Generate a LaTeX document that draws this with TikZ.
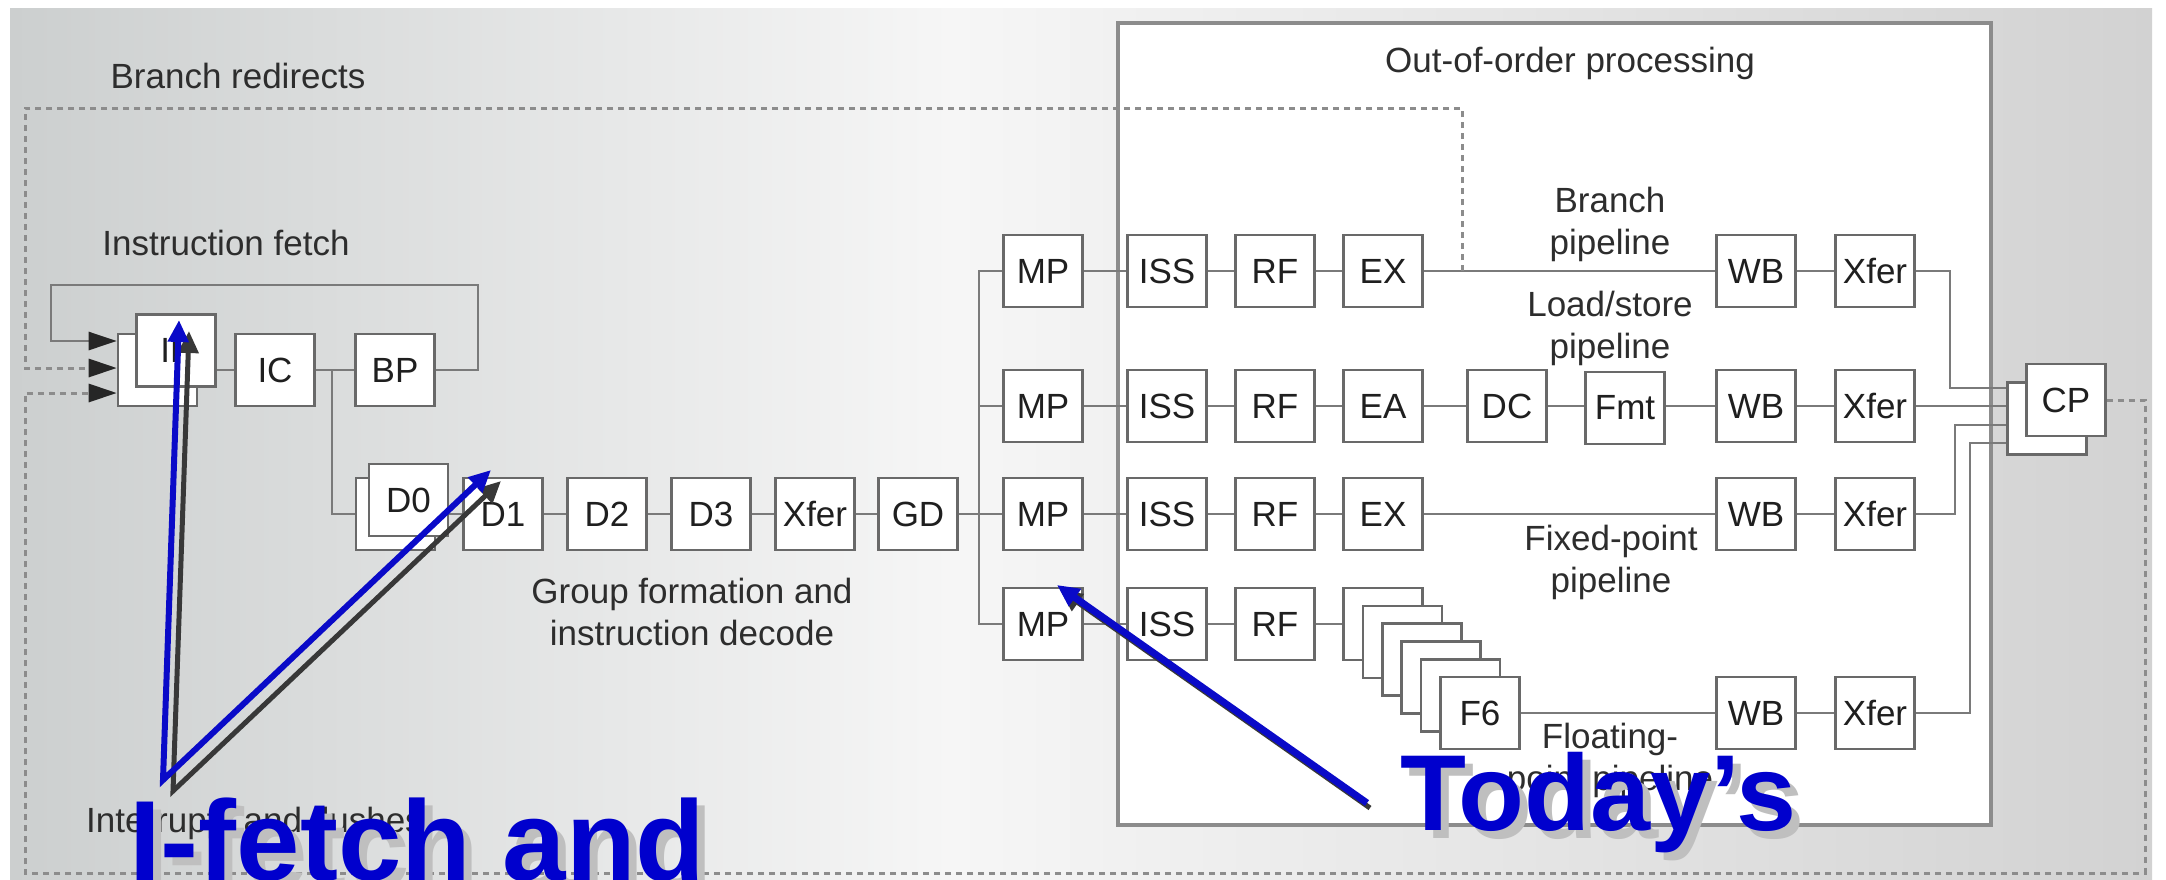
\documentclass[tikz,border=0pt]{standalone}
\usepackage{fontspec}
\setmainfont{Liberation Sans}
\usetikzlibrary{arrows.meta,calc}
\definecolor{bgL}{RGB}{204,207,207}
\definecolor{bgM}{RGB}{246,246,246}
\definecolor{bgR}{RGB}{210,210,210}
\definecolor{boxln}{RGB}{105,105,105}
\definecolor{wirec}{RGB}{122,122,122}
\definecolor{dotc}{RGB}{140,140,140}
\definecolor{ooocol}{RGB}{140,140,140}
\definecolor{labtxt}{RGB}{45,45,45}
\definecolor{hiblue}{RGB}{0,0,205}
\definecolor{arrblue}{RGB}{10,10,200}
\definecolor{halo}{RGB}{190,190,245}
\pgfdeclarehorizontalshading{bgshade}{100bp}{color(0bp)=(bgL); color(25bp)=(bgL); color(47bp)=(bgM); color(75bp)=(bgR); color(100bp)=(bgR)}
\newcommand\lblfont{\fontsize{35}{42}\selectfont}
\begin{document}
\begin{tikzpicture}[x=1pt,y=-1pt,
  stg/.style={draw=boxln, line width=2.6pt, fill=white, minimum width=79pt, minimum height=72pt, inner sep=0pt, font=\lblfont, text=black!88},
  wire/.style={draw=wirec, line width=2.6pt},
  redir/.style={draw=dotc, line width=3pt, dash pattern=on 6pt off 5pt},
  tipB/.style={-{Triangle[length=28pt,width=18pt,color=black!85]}},
  lab/.style={font=\lblfont, text=labtxt, align=center, inner sep=0pt},
  blueArr/.style={draw=arrblue, line width=6pt, line join=miter},
  shadArr/.style={draw=black!78, line width=5pt, line join=miter},
  both/.style={{Triangle[length=22pt,width=20pt]}-{Triangle[length=22pt,width=20pt]}},
  one/.style={-{Triangle[length=22pt,width=20pt]}},
  bigtxt/.style={inner sep=0pt, anchor=base west}]
\useasboundingbox (0,0) rectangle (2166,879);
\fill[white] (0,0) rectangle (2166,879);
\shade[shading=bgshade] (10,8) rectangle (2152,879);
% out-of-order region
\node[draw=ooocol, fill=white, line width=3.5pt, minimum width=873pt, minimum height=802pt, inner sep=0pt] (ooo) at (1554.5,424) {};
% labels
\node[lab] (tBR) at (238,76) {Branch redirects};
\node[lab] (tOOO) at (1570,63) {Out-of-order processing};
\node[lab] (tIFe) at (226,243) {Instruction fetch};
\node[lab] (tGF) at (692,612) {Group formation and\\instruction decode};
\node[lab] (tBPl) at (1610,224) {Branch\\pipeline};
\node[lab] (tLS) at (1610,328) {Load/store\\pipeline};
\node[lab] (tFX) at (1611,562) {Fixed-point\\pipeline};
\node[lab] (tFP) at (1610,760) {Floating-\\point pipeline};
\node[lab, anchor=west] (tIN) at (86,823) {Interrupts and flushes};
% instruction fetch
\node[stg] (IFb) at (157.5,370) {};
\node[stg] (IFf) at (176,350.5) {IF};
\node[stg] (IC) at (275,370) {IC};
\node[stg] (BP) at (395,370) {BP};
% decode
\node[stg] (D0b) at (395.5,514) {};
\node[stg] (D0f) at (408.5,500) {D0};
\node[stg] (D1) at (503,514) {D1};
\node[stg] (D2) at (607,514) {D2};
\node[stg] (D3) at (711,514) {D3};
\node[stg] (XF0) at (815,514) {Xfer};
\node[stg] (GD) at (918,514) {GD};
% row 1
\node[stg] (MP1) at (1043,271) {MP};
\node[stg] (ISS1) at (1167,271) {ISS};
\node[stg] (RF1) at (1275,271) {RF};
\node[stg] (EX1) at (1383,271) {EX};
\node[stg] (WB1) at (1756,271) {WB};
\node[stg] (XF1) at (1875,271) {Xfer};
% row 2
\node[stg] (MP2) at (1043,406) {MP};
\node[stg] (ISS2) at (1167,406) {ISS};
\node[stg] (RF2) at (1275,406) {RF};
\node[stg] (EA2) at (1383,406) {EA};
\node[stg] (DC2) at (1507,406) {DC};
\node[stg] (Fmt2) at (1625,408) {Fmt};
\node[stg] (WB2) at (1756,406) {WB};
\node[stg] (XF2) at (1875,406) {Xfer};
% row 3
\node[stg] (MP3) at (1043,514) {MP};
\node[stg] (ISS3) at (1167,514) {ISS};
\node[stg] (RF3) at (1275,514) {RF};
\node[stg] (EX3) at (1383,514) {EX};
\node[stg] (WB3) at (1756,514) {WB};
\node[stg] (XF3) at (1875,514) {Xfer};
% row 4
\node[stg] (MP4) at (1043,624) {MP};
\node[stg] (ISS4) at (1167,624) {ISS};
\node[stg] (RF4) at (1275,624) {RF};
\node[stg] (F1) at (1383,624) {};
\node[stg] (F2) at (1402.4,641.8) {};
\node[stg] (F3) at (1421.8,659.6) {};
\node[stg] (F4) at (1441.2,677.4) {};
\node[stg] (F5) at (1460.6,695.2) {};
\node[stg] (F6) at (1480,713) {F6};
\node[stg] (WB4) at (1756,713) {WB};
\node[stg] (XF4) at (1875,713) {Xfer};
% completion
\node[stg] (CPb) at (2047,418.5) {};
\node[stg] (CPf) at (2066,400) {CP};
% coordinates
\coordinate (jn) at (332,370);
\coordinate (lpR) at (478,285);
\coordinate (lpL) at (51,285);
\coordinate (bx) at (979,514);
\coordinate (brj) at (1462,271);
\coordinate (rdTL) at (25,108);
\coordinate (irBR) at (2145,873);
\coordinate (irBL) at (25,873);
\coordinate (c1) at (1950,388);
\coordinate (c3) at (1955,425);
\coordinate (c4) at (1970,443);
% wires: fetch
\draw[wire] (IFf.east |- IC) -- (IC);
\draw[wire] (IC) -- (BP);
\draw[wire] (jn) |- (D0b.west);
\draw[wire, tipB] (BP.east) -| (lpR) -- (lpL) |- ($(IFb.west)+(0,-29)$);
% wires: decode
\draw[wire] (D0f.east |- D1) -- (D1);
\draw[wire] (D1) -- (D2) -- (D3) -- (XF0) -- (GD) -- (MP3);
\draw[wire] (MP1.west) -- (MP1.west -| bx) -- (MP4.west -| bx) -- (MP4.west);
\draw[wire] (MP2.west -| bx) -- (MP2.west);
% wires: pipelines
\draw[wire] (MP1) -- (ISS1) -- (RF1) -- (EX1) -- (WB1) -- (XF1);
\draw[wire] (MP2) -- (ISS2) -- (RF2) -- (EA2) -- (DC2) -- (Fmt2.west |- DC2);
\draw[wire] (Fmt2.east |- WB2) -- (WB2) -- (XF2);
\draw[wire] (MP3) -- (ISS3) -- (RF3) -- (EX3) -- (WB3) -- (XF3);
\draw[wire] (MP4) -- (ISS4) -- (RF4) -- (F1);
\draw[wire] (F6) -- (WB4) -- (XF4);
% into completion
\draw[wire] (XF1.east) -| (c1) -- (c1 -| CPb.west);
\draw[wire] (XF2) -- (XF2 -| CPb.west);
\draw[wire] (XF3.east) -| (c3) -- (c3 -| CPb.west);
\draw[wire] (XF4.east) -| (c4) -- (c4 -| CPb.west);
% dotted redirect paths
\draw[redir, tipB] (brj) |- (rdTL) |- ($(IFb.west)+(0,-2)$);
\draw[redir, tipB] (CPf.east) -| (irBR) -- (irBL) |- ($(IFb.west)+(0,23)$);
% blue annotation arrows
\coordinate (bv) at (163,780);
\coordinate (tIFa) at (179,320);
\coordinate (tD1) at (491,470);
\coordinate (bt) at (1367,803);
\coordinate (tMP) at (1057,585);
\draw[shadArr, both] ($(tIFa)+(10,11)$) -- ($(bv)+(10,11)$) -- ($(tD1)+(10,11)$);
\draw[shadArr, one] ($(bt)+(3,5)$) -- ($(tMP)+(3,5)$);
\draw[blueArr, both] (tIFa) -- (bv) -- (tD1);
\draw[blueArr, one, line width=7pt] (bt) -- (tMP);
% big overlay text
\node[bigtxt, text=black!25, font=\fontsize{114}{124}\selectfont\bfseries] (ifs) at (137,888) {I-fetch and};
\node[bigtxt, text=hiblue, font=\fontsize{114}{124}\selectfont\bfseries] (ift) at (129,880) {I-fetch and};
\node[bigtxt, text=black!25, font=\fontsize{108}{118}\selectfont\bfseries] (tds) at (1408,838) {Today’s};
\node[bigtxt, text=hiblue, font=\fontsize{108}{118}\selectfont\bfseries] (tdt) at (1400,830) {Today’s};
\end{tikzpicture}
\end{document}
